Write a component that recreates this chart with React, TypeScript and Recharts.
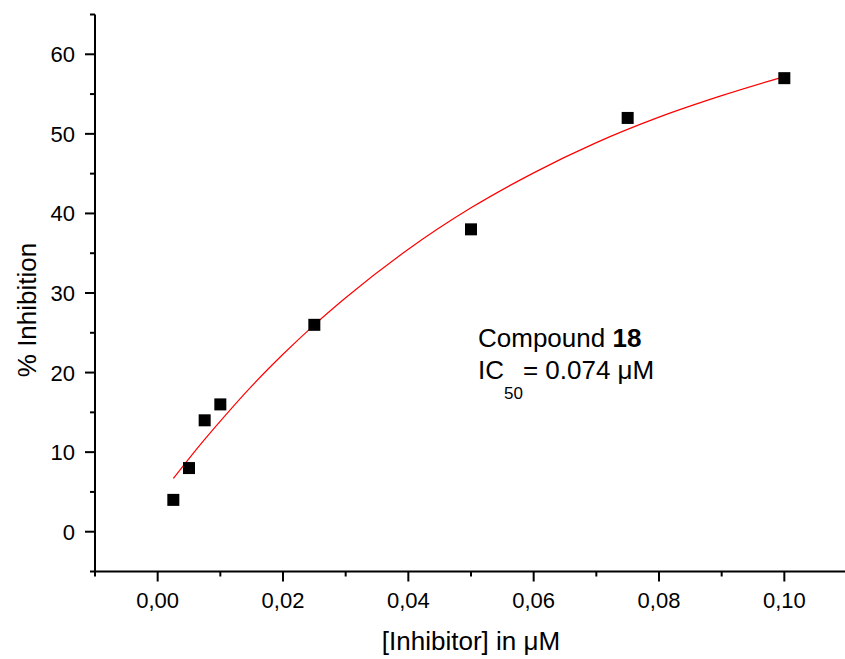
import React from "react";
import {
  ComposedChart,
  Line,
  Scatter,
  XAxis,
  YAxis,
} from "recharts";

// measured points (concentration in µM, % inhibition)
const concentrations = [0.0025, 0.005, 0.0075, 0.01, 0.025, 0.05, 0.075, 0.1];
const inhibition = [4, 8, 14, 16, 26, 38, 52, 57];

// fitted curve
const fitX = [0.0025, 0.005, 0.0075, 0.01, 0.015, 0.02, 0.025, 0.03, 0.04, 0.05, 0.06, 0.07, 0.08, 0.09, 0.1];
const fitY = [6.7, 9.2, 11.6, 13.9, 18.3, 22.3, 26.0, 29.4, 35.5, 40.7, 45.1, 48.9, 52.1, 54.8, 57.2];

const xTicks = [-0.01, 0, 0.01, 0.02, 0.03, 0.04, 0.05, 0.06, 0.07, 0.08, 0.09, 0.1, 0.11];
const yTicks = [-5, 0, 5, 10, 15, 20, 25, 30, 35, 40, 45, 50, 55, 60, 65];

const FONT = "'Liberation Sans', Arial, sans-serif";

const points = concentrations.map((x, i) => ({ x, y: inhibition[i] }));
const curve = fitX.map((x, i) => ({ x, y: fitY[i] }));

function XTick(props: any) {
  const { x, y, payload } = props;
  const v = payload.value as number;
  const major = Math.round(v * 100) % 2 === 0;
  return (
    <g>
      <line x1={x} y1={y} x2={x} y2={y + (major ? 10 : 5)} stroke="#000" strokeWidth={2} />
      {major && (
        <text x={x} y={y + 36.5} textAnchor="middle" fontSize={22} fontFamily={FONT} fill="#000">
          {v.toFixed(2).replace(".", ",")}
        </text>
      )}
    </g>
  );
}

function YTick(props: any) {
  const { x, y, payload } = props;
  const v = payload.value as number;
  const major = v % 10 === 0;
  return (
    <g>
      <line x1={x - (major ? 10 : 5)} y1={y} x2={x} y2={y} stroke="#000" strokeWidth={2} />
      {major && (
        <text x={x - 20} y={y + 8} textAnchor="end" fontSize={22} fontFamily={FONT} fill="#000">
          {v}
        </text>
      )}
    </g>
  );
}

function Square(props: any) {
  const { cx, cy } = props;
  return <rect x={cx - 6} y={cy - 6} width={12} height={12} fill="#000" />;
}

export default function App() {
  return (
    <div
      style={{
        position: "absolute",
        left: 0,
        top: 0,
        width: 845,
        height: 659,
        overflow: "hidden",
        background: "#fff",
      }}
    >
      <ComposedChart
        width={850}
        height={659}
        margin={{ top: 14.5, right: 3, bottom: 0, left: 0 }}
      >
        <XAxis
          type="number"
          dataKey="x"
          domain={[-0.01, 0.11]}
          ticks={xTicks}
          interval={0}
          tickSize={0}
          tickMargin={0}
          tickLine={false}
          tick={<XTick />}
          height={87.5}
          axisLine={{ stroke: "#000", strokeWidth: 2 }}
          allowDataOverflow
        />
        <YAxis
          type="number"
          dataKey="y"
          domain={[-5, 65]}
          ticks={yTicks}
          interval={0}
          tickSize={0}
          tickMargin={0}
          tickLine={false}
          tick={<YTick />}
          width={95}
          axisLine={{ stroke: "#000", strokeWidth: 2 }}
          allowDataOverflow
        />
        <Line
          data={curve}
          dataKey="y"
          type="monotone"
          stroke="#ff0000"
          strokeWidth={1.2}
          dot={false}
          activeDot={false}
          isAnimationActive={false}
        />
        <Scatter
          data={points}
          dataKey="y"
          shape={<Square />}
          isAnimationActive={false}
        />
      </ComposedChart>
      <svg
        width={845}
        height={659}
        style={{ position: "absolute", left: 0, top: 0, pointerEvents: "none" }}
      >
        <text x={471} y={650} textAnchor="middle" fontSize={26} fontFamily={FONT} fill="#000">
          [Inhibitor] in μM
        </text>
        <text
          x={36}
          y={310}
          transform="rotate(-90 36 310)"
          textAnchor="middle"
          fontSize={26}
          fontFamily={FONT}
          fill="#000"
        >
          % Inhibition
        </text>
        <text x={478} y={346.5} fontSize={26} fontFamily={FONT} fill="#000">
          Compound <tspan fontWeight="bold">18</tspan>
        </text>
        <text x={478} y={379} fontSize={26} fontFamily={FONT} fill="#000">
          IC<tspan fontSize={17} dy={20}>50</tspan>
          <tspan dy={-20}>= 0.074 μM</tspan>
        </text>
      </svg>
    </div>
  );
}
